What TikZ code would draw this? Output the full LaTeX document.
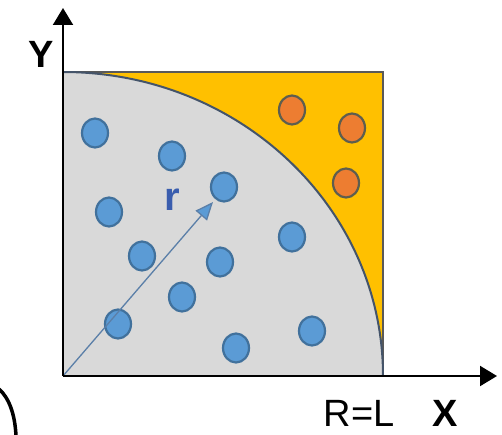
\documentclass[tikz,border=0pt]{standalone}
\usepackage{fontspec}
\setmainfont{Liberation Sans}
\usepackage{tikz}
\usetikzlibrary{positioning,arrows.meta,shapes.geometric}
\definecolor{regiongray}{HTML}{D9D9D9}
\definecolor{regionorange}{HTML}{FFC000}
\definecolor{dotblue}{HTML}{5B9BD5}
\definecolor{dotblueline}{HTML}{41719C}
\definecolor{dotorange}{HTML}{ED7D31}
\definecolor{dotorangeline}{HTML}{5E5E4E}
\definecolor{edgegray}{HTML}{595959}
\definecolor{arcline}{HTML}{44546A}
\definecolor{rayblue}{HTML}{5B7FA8}
\definecolor{labelblue}{HTML}{3A5DAE}

\begin{document}
\begin{tikzpicture}[
  x=1pt, y=1pt, >=Triangle,
  axis/.style={draw=black, line width=2pt, -{Triangle[length=17pt,width=20pt]}},
  inside/.style={ellipse, draw=dotblueline, fill=dotblue, line width=2.2pt, minimum width=26pt, minimum height=29pt, inner sep=0pt},
  outside/.style={inside, draw=dotorangeline, fill=dotorange},
  ray/.style={draw=rayblue, line width=1.3pt, -{Triangle[length=18pt,width=15pt,fill=dotblue]}},
  axlabel/.style={font=\fontsize{38}{40}\selectfont\bfseries, inner sep=0pt},
]
  \useasboundingbox (-63,-58) rectangle (439,376);
  \coordinate (O) at (0,0);
  \coordinate (ytip) at (0,368);
  \coordinate (xtip) at (434,0);
  \coordinate (ytop) at (0,304);
  \coordinate (xend) at (320,0);
  % regions
  \fill[regionorange] (O) rectangle (320,304);
  \fill[regiongray] (O) -- (ytop) arc[start angle=90, end angle=0, x radius=320, y radius=304] -- cycle;
  \draw[edgegray, line width=2pt] (ytop) -- (320,304) -- (xend);
  \draw[arcline, line width=2pt] (ytop) arc[start angle=90, end angle=0, x radius=320, y radius=304];
  % points inside the quarter circle
  \node[inside] (b1) at (32,243) {};
  \node[inside] (b2) at (109,220) {};
  \node[inside] (b3) at (161,189) {};
  \node[inside] (b4) at (46,164) {};
  \node[inside] (b5) at (229,139) {};
  \node[inside] (b6) at (79,120) {};
  \node[inside] (b7) at (157,114) {};
  \node[inside] (b8) at (119,79) {};
  \node[inside] (b9) at (55,52) {};
  \node[inside] (b10) at (249,45) {};
  \node[inside] (b11) at (173,28) {};
  % points outside
  \node[outside] (o1) at (229,266) {};
  \node[outside] (o2) at (289,248) {};
  \node[outside] (o3) at (283,193) {};
  % radius
  \coordinate (rtip) at (150,174);
  \draw[ray] (O) -- (rtip);
  \node[font=\fontsize{40}{42}\selectfont\bfseries, text=labelblue] (rlab) at (109,176) {r};
  % axes
  \draw[axis] (O) -- (ytip);
  \draw[axis] (O) -- (xtip);
  \node[axlabel] (ylab) at (-22,322) {Y};
  \node[font=\fontsize{38}{40}\selectfont, inner sep=0pt] (Rlab) at (296,-37) {R=L};
  \node[axlabel] (xlab) at (382,-37) {X};
  % stray bracket at the corner
  \draw[black, line width=3.5pt] (-64,-13) .. controls (-54,-22) and (-48,-38) .. (-47,-60);
\end{tikzpicture}
\end{document}
